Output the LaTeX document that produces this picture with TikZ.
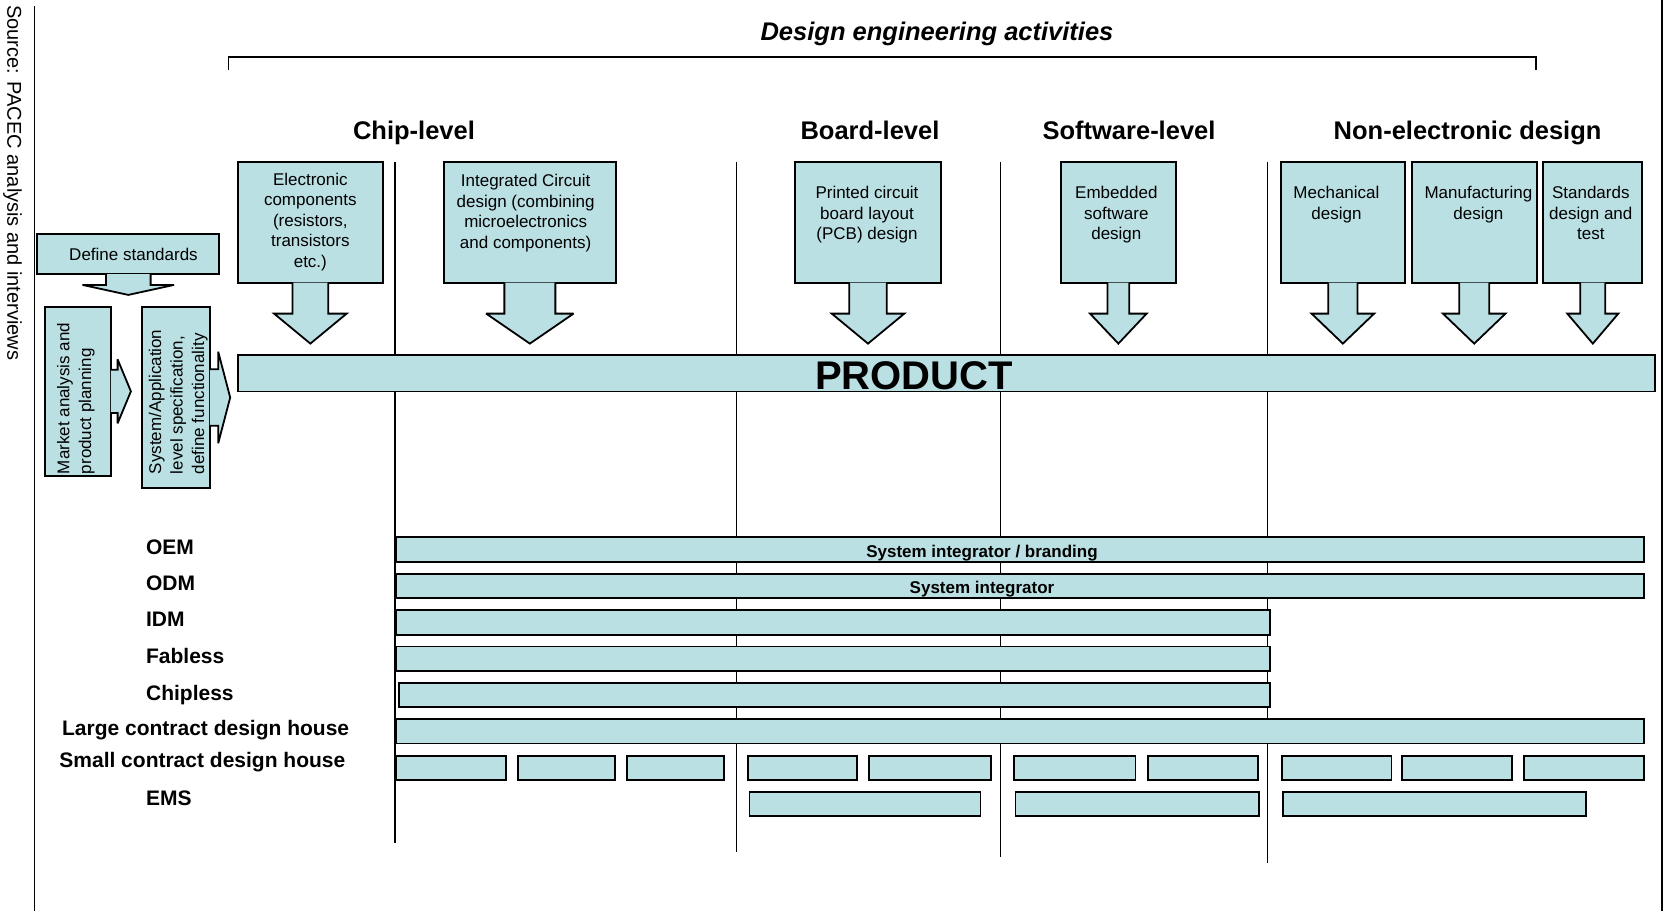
\documentclass[tikz,border=0pt]{standalone}
\usepackage{fontspec}
\setmainfont{Liberation Sans}
\usetikzlibrary{calc,positioning}
\definecolor{boxfill}{RGB}{187,224,227}

% down arrow under a box: node, stem half width, wing, stem length, head length
\newcommand{\downcall}[5]{%
  \filldraw[calloutline] ($(#1.south)+(-#2,-1)$) -- ++(0,{#4+1}) -- ++(-#3,0)
    -- ++({#2+#3},#5) -- ++({#2+#3},-#5) -- ++(-#3,0) -- ++(0,{-#4-1});
}
% arrow to the right of a box
\newcommand{\rightcall}[5]{%
  \filldraw[calloutline] ($(#1.east)+(-1,-#2)$) -- ++({#4+1},0) -- ++(0,-#3)
    -- ++(#5,{#2+#3}) -- ++(-#5,{#2+#3}) -- ++(0,-#3) -- ++({-#4-1},0);
}
% bar of one row: name, left, right, y
\newcommand{\rowbar}[4]{%
  \node[rowbar, minimum width={(#3-#2)*0.5pt}] (#1) at (#2,#4) {};
}

\tikzset{
  designbox/.style={draw, fill=boxfill, line width=0.9pt, inner sep=0pt, minimum height=60.5pt},
  calloutline/.style={draw, fill=boxfill, line width=0.9pt, line join=miter, miter limit=3},
  boxtext/.style={font=\fontsize{8.5}{10.25}\selectfont, align=center, inner sep=0pt, anchor=north},
  sidetext/.style={font=\fontsize{8.5}{10.8}\selectfont, align=left, inner sep=0pt, rotate=90, anchor=north west},
  heading/.style={font=\fontsize{12.75}{15}\selectfont\bfseries, inner sep=0pt, anchor=base},
  rowlabel/.style={font=\fontsize{10.5}{12}\selectfont\bfseries, inner sep=0pt, anchor=base west},
  rowbar/.style={draw, fill=boxfill, line width=0.9pt, inner sep=0pt, minimum height=12.2pt, anchor=west},
  bartext/.style={font=\fontsize{8.5}{10}\selectfont\bfseries, inner sep=0pt, anchor=base},
  divider/.style={line width=0.7pt}
}

\begin{document}
\begin{tikzpicture}[x=0.5pt,y=-0.5pt]
        \useasboundingbox (0,0) rectangle (1665,911);

        % frame and source
        \draw[line width=0.65pt] (34.3,6) -- (34.3,911);
        \draw[line width=1pt] (1662,0) -- (1662,911);
        \node[font=\fontsize{10}{12}\selectfont, rotate=-90, anchor=west, inner sep=0pt] (source) at (12.5,5) {Source: PACEC analysis and interviews};

        % title and bracket
        \node[font=\fontsize{12.75}{15}\selectfont\bfseries\itshape, inner sep=0pt, anchor=base] (title) at (937,40.4) {Design engineering activities};
        \draw[divider] (228.3,70) |- (1536,57) -- (1536,70);

        \node[heading] (chip) at (414,139) {Chip-level};
        \node[heading] (board) at (870,139) {Board-level};
        \node[heading] (soft) at (1129,139) {Software-level};
        \node[heading] (nonel) at (1467.6,139) {Non-electronic design};

        % dividers
        \foreach \xd/\yd in {395/843, 736.7/851.7, 1000.7/856.7, 1267.3/863}
            \draw[divider] (\xd,161.7) -- (\xd,\yd);

        % left side
        \node[designbox, minimum width=91pt, minimum height=20pt] (defstd) at (128.3,254.3) {};
        \downcall{defstd}{22.3}{23.5}{9.7}{10}
        \node[font=\fontsize{8.5}{10.25}\selectfont, inner sep=0pt] (defstdtext) at ([xshift=2.6pt]defstd.center) {Define standards};
        \node[designbox, minimum width=33pt, minimum height=84.65pt] (mkt) at (78,391.35) {};
        \rightcall{mkt}{21.7}{10.3}{5.7}{13.3}
        \node[designbox, minimum width=34.15pt, minimum height=90.8pt] (sysapp) at (175.85,397.5) {};
        \rightcall{sysapp}{28.3}{17.5}{7.3}{12}
        \node[sidetext] (mkttext) at (56.7,474.5) {Market analysis and\\product planning};
        \node[sidetext] (systext) at (148.3,474.5) {System/Application\\level specification,\\define functionality};

        % design activities
        \node[designbox, minimum width=72.35pt] (ec) at (310.35,222.2) {};
        \node[designbox, minimum width=85.85pt] (icd) at (529.85,222.2) {};
        \node[designbox, minimum width=73pt] (pcb) at (868,222.2) {};
        \node[designbox, minimum width=57.35pt] (emb) at (1118.35,222.2) {};
        \node[designbox, minimum width=62.15pt] (mech) at (1342.85,222.2) {};
        \node[designbox, minimum width=62.5pt] (manu) at (1474.2,222.2) {};
        \node[designbox, minimum width=49.5pt] (stdt) at (1592.8,222.2) {};

        \downcall{ec}{17.8}{18.5}{30}{30}
        \downcall{icd}{25.5}{18.2}{30}{30}
        \downcall{pcb}{18.7}{17.6}{30}{30}
        \downcall{emb}{10.8}{17.5}{30}{30}
        \downcall{mech}{14.7}{16.6}{30}{30}
        \downcall{manu}{15}{16.3}{30}{30}
        \downcall{stdt}{12.5}{13}{30}{30}

        \node[boxtext] at ([yshift=-5.8pt]ec.north) {Electronic\\components\\(resistors,\\transistors\\etc.)};
        \node[boxtext] at ([xshift=-2.1pt,yshift=-6.65pt]icd.north) {Integrated Circuit\\design (combining\\microelectronics\\and components)};
        \node[boxtext] at ([xshift=-0.5pt,yshift=-12.5pt]pcb.north) {Printed circuit\\board layout\\(PCB) design};
        \node[boxtext] at ([xshift=-1pt,yshift=-12.5pt]emb.north) {Embedded\\software\\design};
        \node[boxtext] at ([xshift=-3.2pt,yshift=-12.5pt]mech.north) {Mechanical\\design};
        \node[boxtext] at ([xshift=2.1pt,yshift=-12.5pt]manu.north) {Manufacturing\\design};
        \node[boxtext] at ([xshift=-1pt,yshift=-12.5pt]stdt.north) {Standards\\design and\\test};

        % product
        \node[designbox, minimum width=708.5pt, minimum height=18.25pt] (prod) at (946.5,373.25) {};
        \node[font=\fontsize{20}{24}\selectfont\bfseries, inner sep=0pt, anchor=base] (prodtext) at (914,389.3) {PRODUCT};

        % rows
        \node[rowlabel] (oem) at (145.7,554) {OEM};
        \node[rowlabel] (odm) at (145.7,590) {ODM};
        \node[rowlabel] (idm) at (145.7,626.7) {IDM};
        \node[rowlabel] (fabless) at (145.7,663.3) {Fabless};
        \node[rowlabel] (chipless) at (145.7,700) {Chipless};
        \node[rowlabel] (large) at (61.7,735) {Large contract design house};
        \node[rowlabel] (small) at (59,767.3) {Small contract design house};
        \node[rowlabel] (ems) at (145.7,805) {EMS};

        \rowbar{oembar}{395}{1642.7}{549.5}
        \rowbar{odmbar}{395}{1642.7}{585.8}
        \rowbar{idmbar}{395}{1269.3}{622.5}
        \rowbar{fablessbar}{395}{1269.3}{658.7}
        \rowbar{chiplessbar}{397.7}{1269.3}{695}
        \rowbar{largebar}{395}{1642.7}{731.2}
        \foreach \xa/\xb [count=\i] in {395/505, 516.7/614.3, 625.7/723.3, 746.9/856, 867.7/989.8, 1013.2/1134.6, 1147/1256.7, 1280.8/1390.5, 1401/1511, 1523/1643}
            {\rowbar{smallbar\i}{\xa}{\xb}{767.8}}
        \foreach \xa/\xb [count=\i] in {748.6/979.5, 1014.5/1258, 1282/1585}
            {\rowbar{emsbar\i}{\xa}{\xb}{803.8}}

        \node[bartext] at (982,557) {System integrator / branding};
        \node[bartext] at (982,593.3) {System integrator};

    \end{tikzpicture}
\end{document}
